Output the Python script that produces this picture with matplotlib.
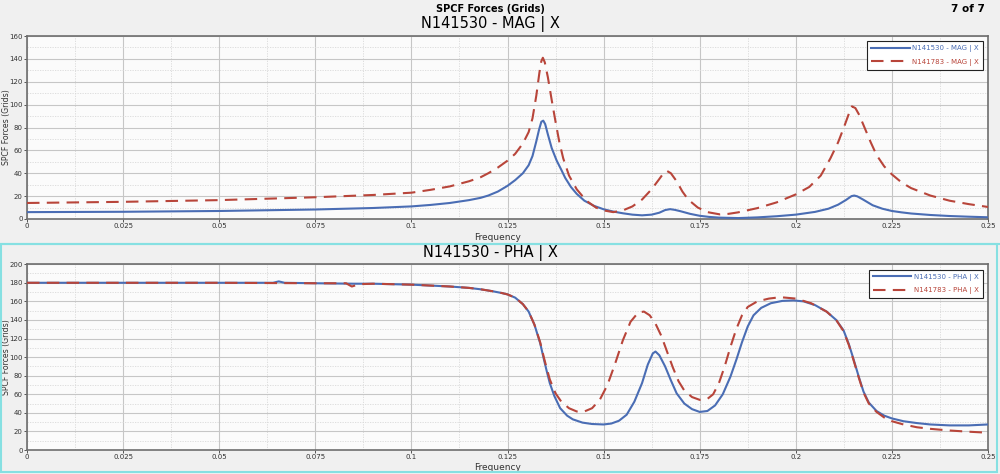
import matplotlib
matplotlib.use('Agg')
import matplotlib.pyplot as plt
from matplotlib.ticker import MultipleLocator, FuncFormatter
from matplotlib.patches import Rectangle
from matplotlib.lines import Line2D

# MAG panel, N141530 (solid blue)
mag_blue_f = [0, 0.025, 0.05, 0.075, 0.09, 0.1, 0.105, 0.11, 0.115, 0.118, 0.12, 0.1225,
              0.125, 0.127, 0.129, 0.1305, 0.1315, 0.1325, 0.1332, 0.1338, 0.1343, 0.1348,
              0.1355, 0.1365, 0.1378, 0.139, 0.14, 0.1415, 0.143, 0.145, 0.1475, 0.15, 0.1525,
              0.155, 0.1575, 0.16, 0.1625, 0.1645, 0.166, 0.1673, 0.1685, 0.17, 0.1725, 0.175,
              0.1775, 0.18, 0.185, 0.19, 0.195, 0.2, 0.205, 0.2085, 0.211, 0.213, 0.2145,
              0.2152, 0.216, 0.2175, 0.22, 0.2225, 0.225, 0.2275, 0.23, 0.235, 0.24, 0.245, 0.25]
mag_blue_v = [6, 6.3, 7, 8.3, 9.6, 11, 12.3, 14, 16.5, 18.5, 20.5, 24,
              29, 34, 40, 47, 55, 68, 78, 85, 86, 83,
              74, 62, 51, 43, 36, 28, 22, 16, 11.5, 8.5, 6.5,
              5, 3.8, 3.2, 3.8, 5.5, 7.8, 8.6, 8, 6.8, 4.5, 2.8,
              1.8, 1.2, 0.8, 1.4, 2.4, 3.8, 6.2, 9, 12.5, 16.5, 20,
              20.5, 19.8, 17, 12, 9, 7, 5.8, 4.8, 3.5, 2.6, 2, 1.5]

# MAG panel, N141783 (dashed red)
mag_red_f = [0, 0.025, 0.05, 0.075, 0.09, 0.1, 0.105, 0.11, 0.115, 0.118, 0.12, 0.1225,
             0.125, 0.127, 0.129, 0.1305, 0.1315, 0.1325, 0.1333, 0.1338, 0.1342, 0.1347,
             0.1355, 0.1365, 0.1375, 0.1385, 0.1395, 0.141, 0.143, 0.1455, 0.148, 0.15, 0.1525,
             0.155, 0.1575, 0.16, 0.1625, 0.1645, 0.1658, 0.1665, 0.1675, 0.169, 0.1705, 0.172,
             0.1745, 0.177, 0.1803, 0.1825, 0.185, 0.19, 0.195, 0.2, 0.2035, 0.2065, 0.209,
             0.211, 0.2125, 0.2138, 0.2146, 0.2155, 0.2165, 0.218, 0.2195, 0.221, 0.223, 0.225,
             0.2275, 0.23, 0.235, 0.24, 0.245, 0.25]
mag_red_v = [14, 15, 16.5, 19, 21, 23, 25.5, 28.5, 33, 36.5, 40, 45,
             51, 57, 66, 76, 88, 108, 128, 138, 141, 137,
             124, 104, 85, 67, 53, 38, 26, 16, 10, 7.5, 6,
             7.5, 11, 17, 26, 35, 41, 42, 40, 33, 24, 17,
             10, 6, 4, 4.5, 5.8, 9.5, 14.5, 21.5, 28, 38, 53,
             67, 80, 92, 98.5, 97, 91, 79, 67, 56, 46, 39,
             32, 27, 20.5, 16, 13, 10.5]

# PHA panel, N141530 (solid blue)
pha_blue_f = [0, 0.025, 0.05, 0.064, 0.0655, 0.067, 0.075, 0.085, 0.09, 0.1, 0.105, 0.11,
              0.115, 0.118, 0.121, 0.1235, 0.125, 0.127, 0.129, 0.1305, 0.132, 0.1335, 0.1345,
              0.1352, 0.136, 0.1372, 0.1387, 0.1405, 0.142, 0.1445, 0.147, 0.15, 0.152, 0.154,
              0.156, 0.158, 0.16, 0.1615, 0.1628, 0.1635, 0.1645, 0.166, 0.1675, 0.169, 0.171,
              0.173, 0.175, 0.177, 0.179, 0.181, 0.183, 0.1846, 0.186, 0.1875, 0.189, 0.191,
              0.1935, 0.1965, 0.1994, 0.202, 0.205, 0.208, 0.2105, 0.2124, 0.2138, 0.215,
              0.2163, 0.2176, 0.219, 0.221, 0.223, 0.225, 0.228, 0.2315, 0.235, 0.24, 0.245, 0.25]
pha_blue_v = [180, 180, 180, 180, 181.5, 180, 179.5, 179, 179, 178, 177, 176,
              174.5, 173, 171, 169, 167.5, 164, 157, 149, 135, 115, 97,
              85, 72, 58, 45, 37, 33, 29.5, 28, 27.5, 28.5, 31.5,
              38, 52, 72, 92, 104, 106, 102, 90, 75, 61, 50,
              44, 41, 42, 48, 60, 79, 98, 116, 133, 145, 153,
              158, 160.5, 161, 160, 156, 149, 140, 129, 114, 98,
              80, 63, 51, 42, 37, 34, 31, 29, 27.5, 26.5, 26.5, 27.5]

# PHA panel, N141783 (dashed red)
pha_red_f = [0, 0.05, 0.075, 0.083, 0.0845, 0.0865, 0.09, 0.1, 0.105, 0.11, 0.115, 0.118,
             0.121, 0.1235, 0.125, 0.127, 0.129, 0.1305, 0.132, 0.1335, 0.1345, 0.1352, 0.136,
             0.1375, 0.139, 0.141, 0.143, 0.145, 0.147, 0.149, 0.151, 0.153, 0.155, 0.157,
             0.159, 0.1605, 0.162, 0.1635, 0.165, 0.1665, 0.168, 0.1695, 0.171, 0.173, 0.175,
             0.177, 0.1785, 0.18, 0.1815, 0.183, 0.1845, 0.186, 0.1875, 0.19, 0.193, 0.196,
             0.2, 0.204, 0.208, 0.2105, 0.2124, 0.2138, 0.215, 0.2163, 0.2176, 0.219, 0.221,
             0.223, 0.225, 0.228, 0.2315, 0.235, 0.24, 0.245, 0.25]
pha_red_v = [180, 180, 179.5, 179.5, 176, 178.5, 179, 178, 177, 176, 174.5, 173,
             171, 169, 167.5, 164, 157, 149, 135, 116, 99, 88, 76,
             61, 52, 45, 41.5, 41.5, 45, 54, 70, 93, 118, 138,
             148, 149, 145, 136, 123, 106, 89, 74, 64, 57, 54,
             55, 60, 72, 90, 111, 130, 145, 154, 160, 163, 164.5,
             163, 158, 149, 140, 128, 113, 97, 79, 62, 50, 41,
             35, 31, 27.5, 24.5, 22.8, 21, 19.7, 18.6]

panels = [
    ('N141530 - MAG | X', mag_blue_f, mag_blue_v, mag_red_f, mag_red_v,
     ['N141530 - MAG | X', 'N141783 - MAG | X'], 160),
    ('N141530 - PHA | X', pha_blue_f, pha_blue_v, pha_red_f, pha_red_v,
     ['N141530 - PHA | X', 'N141783 - PHA | X'], 200),
]

blue = '#4a6db4'
red = '#b8453a'
bg = '#f0f0f0'
cyan = '#86e0e2'

fig = plt.figure(figsize=(10, 4.74), dpi=100, facecolor=bg)

# cyan frame round the lower (active) panel
fig.patches.append(Rectangle((0.001, 0.004), 0.996, 0.482, transform=fig.transFigure,
                             fill=False, edgecolor=cyan, lw=1.5))
fig.add_artist(Line2D([0, 1], [0.486, 0.486], color=cyan, lw=1.5, transform=fig.transFigure))

fig.text(0.49, 0.981, 'SPCF Forces (Grids)', ha='center', va='center', fontsize=7,
         fontweight='bold', family='Liberation Sans Narrow')
fig.text(0.985, 0.981, '7 of 7', ha='right', va='center', fontsize=7.5,
         fontweight='bold', family='Liberation Sans Narrow')

rects = [[0.027, 0.538, 0.961, 0.386], [0.027, 0.0506, 0.961, 0.392]]
title_y = [0.949, 0.466]
xlab_y = [-0.075, -0.07]

for rect, ty, xl, p in zip(rects, title_y, xlab_y, panels):
    title, bf, bv, rf, rv, labels, ymax = p
    ax = fig.add_axes(rect)
    ax.set_facecolor('#fbfbfb')
    ax.plot(bf, bv, color=blue, lw=1.5, label=labels[0], zorder=3)
    ax.plot(rf, rv, color=red, lw=1.5, ls=(0, (6, 3.5)), label=labels[1], zorder=4)
    ax.set_xlim(0, 0.25)
    ax.set_ylim(0, ymax)
    ax.xaxis.set_major_locator(MultipleLocator(0.025))
    ax.xaxis.set_minor_locator(MultipleLocator(0.0125))
    ax.yaxis.set_major_locator(MultipleLocator(20))
    ax.yaxis.set_minor_locator(MultipleLocator(10))
    ax.xaxis.set_major_formatter(FuncFormatter(lambda v, pos: '%g' % round(v, 4)))
    ax.grid(which='major', color='#c6c6c6', lw=0.8)
    ax.grid(which='minor', color='#d9d9d9', lw=0.6, ls=(0, (1.5, 1.5)))
    ax.set_axisbelow(True)
    ax.tick_params(which='major', labelsize=5, length=2, width=0.7, color='#555555',
                   labelcolor='#333333', pad=1)
    ax.tick_params(which='minor', length=0)
    for s in ax.spines.values():
        s.set_color('#6e6e6e')
        s.set_linewidth(1.2)
    ax.set_xlabel('Frequency', fontsize=6.5, color='#333333')
    ax.xaxis.set_label_coords(0.49, xl)
    ax.set_ylabel('SPCF Forces (Grids)', fontsize=5.6, color='#333333', va='center')
    ax.yaxis.set_label_coords(-0.0215, 0.5)
    fig.text(0.49, ty, title, ha='center', va='center', fontsize=10.5)
    leg = ax.legend(loc='upper right', fontsize=5, frameon=True, fancybox=False,
                    edgecolor='#222222', framealpha=1, handlelength=5.5, borderpad=0.6,
                    labelspacing=0.9, handletextpad=0.3, bbox_to_anchor=(0.998, 0.99))
    leg.get_frame().set_linewidth(0.8)
    for t, c in zip(leg.get_texts(), [blue, red]):
        t.set_color(c)

fig.savefig('out.png', dpi=100, facecolor=bg)
